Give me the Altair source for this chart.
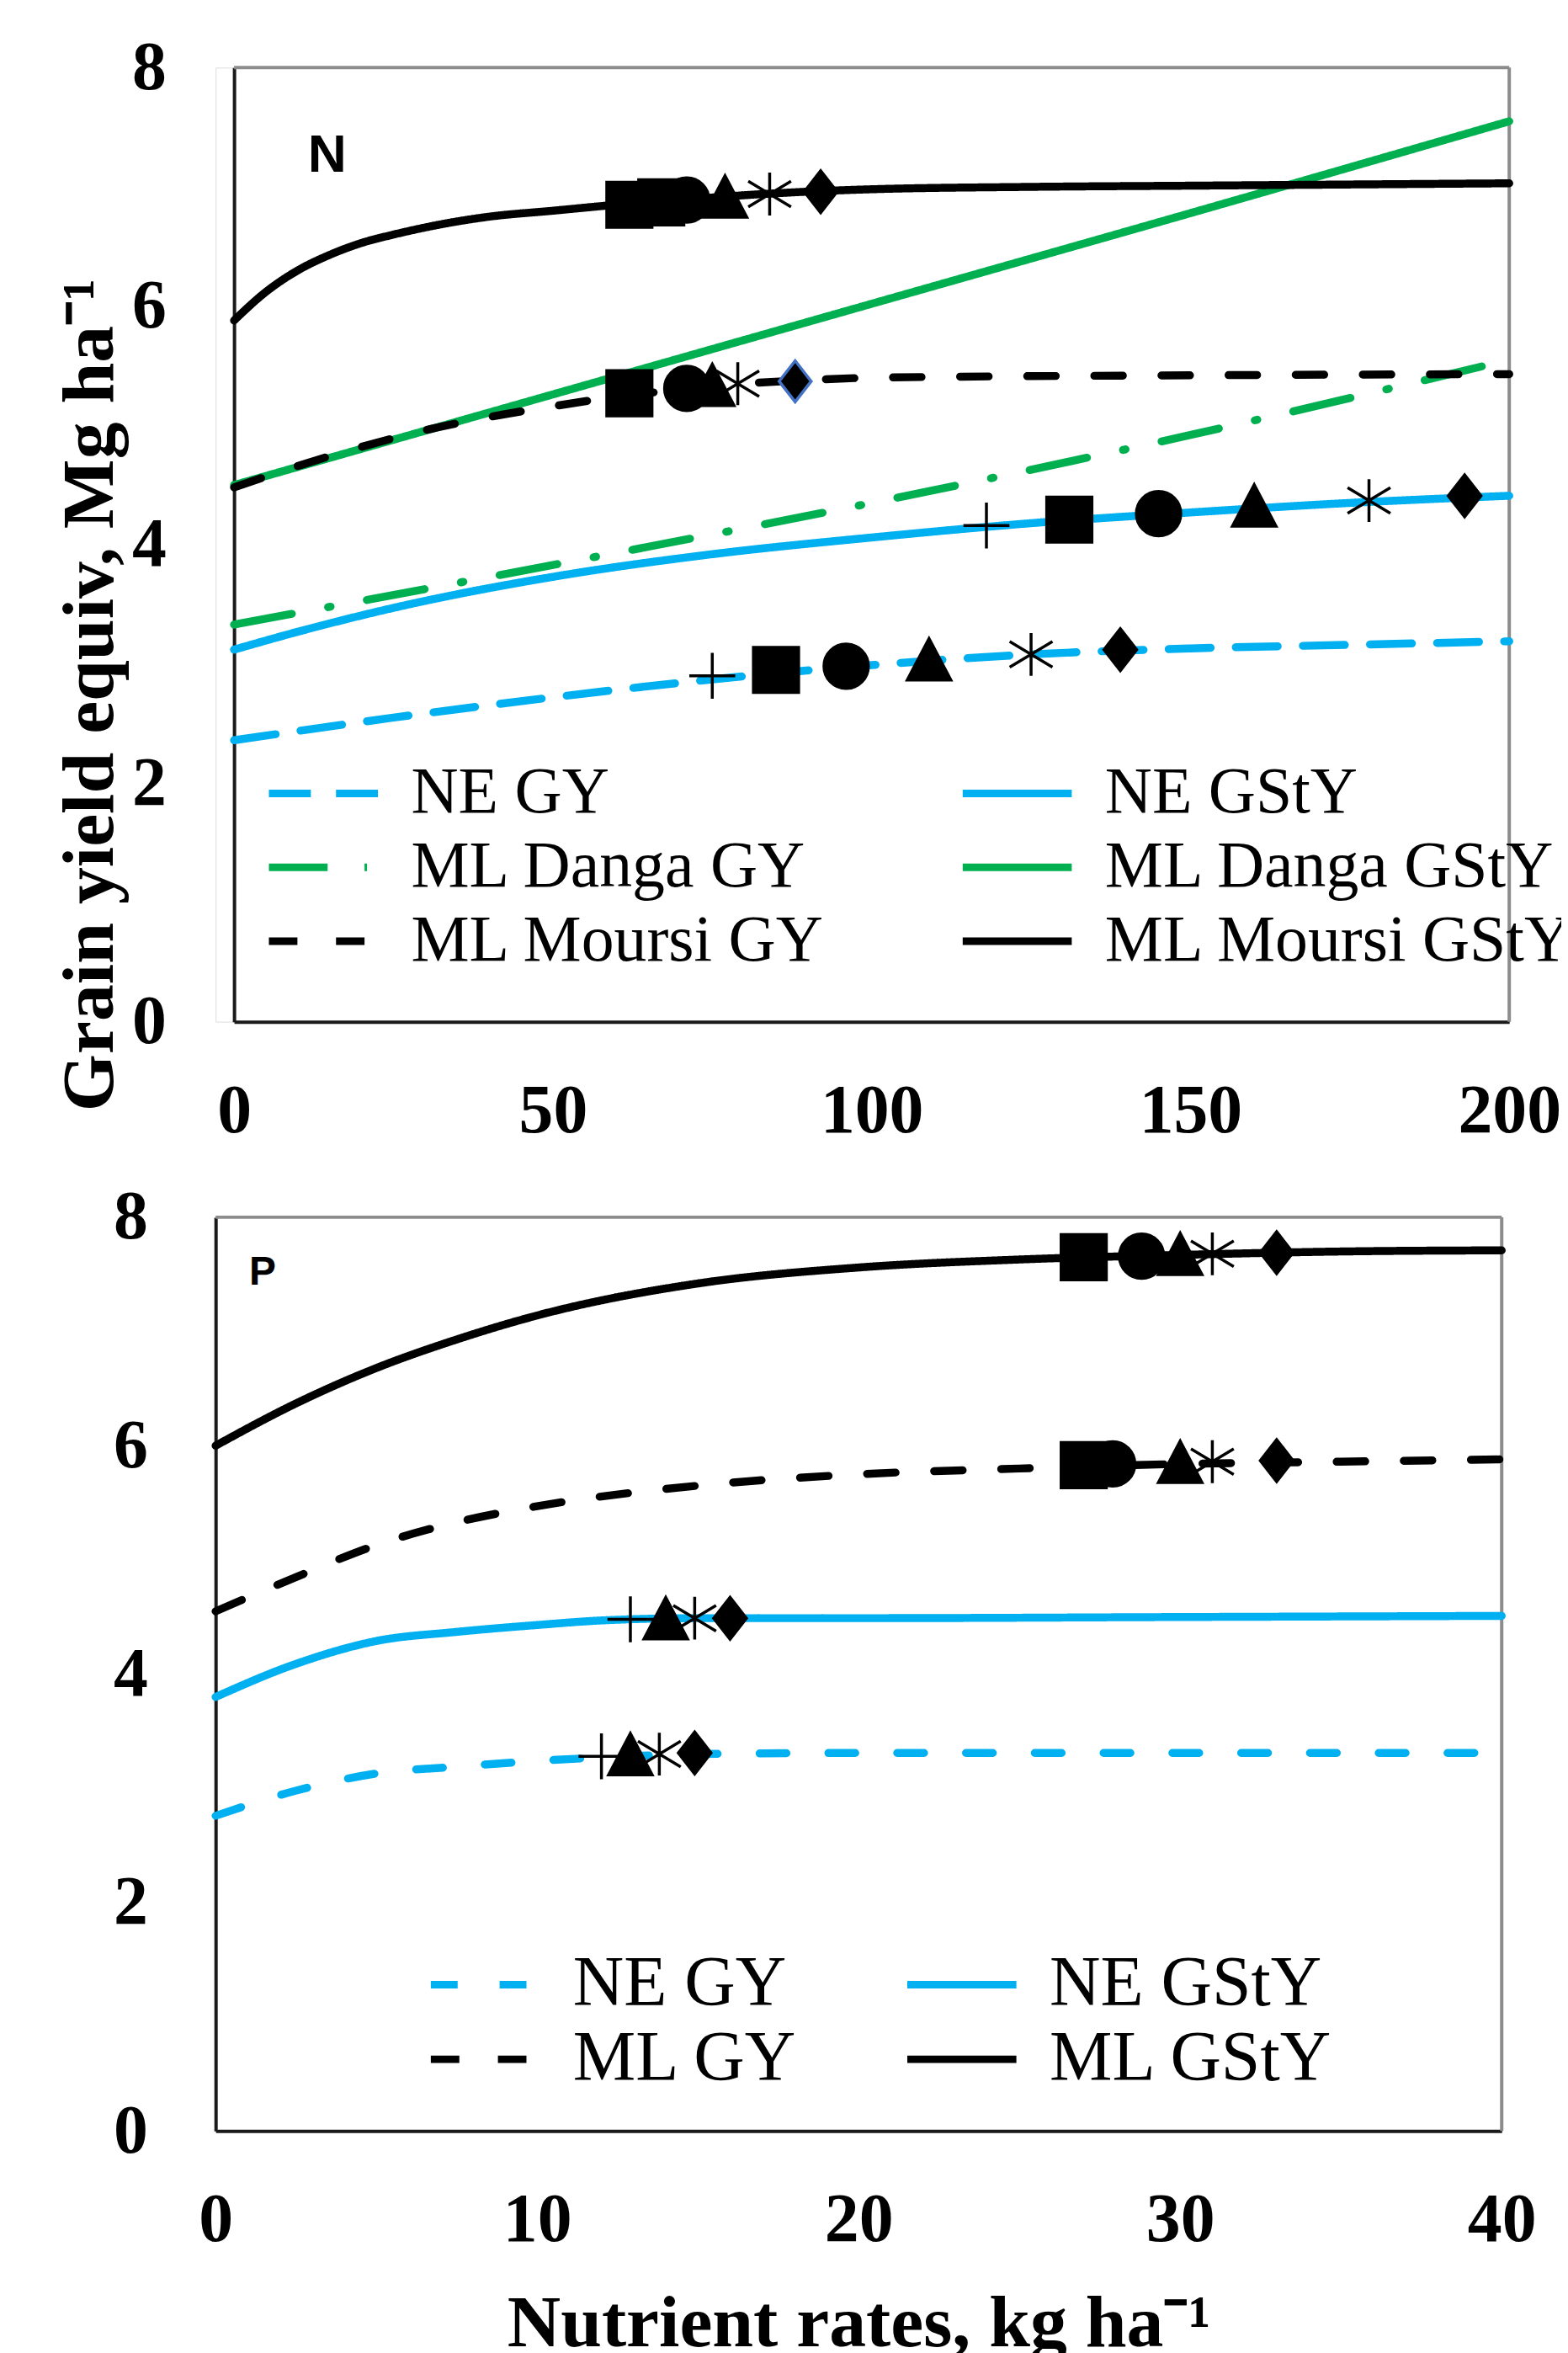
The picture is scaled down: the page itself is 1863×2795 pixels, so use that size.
import altair as alt
import pandas as pd

# ---------------- Panel N (nitrogen) ----------------
n_order = ["NE GY", "NE GStY", "ML Danga GY", "ML Danga GStY", "ML Moursi GY", "ML Moursi GStY"]

n_ne_gy_x = [0, 25, 50, 75, 100, 125, 150, 175, 200]
n_ne_gy_y = [2.36, 2.55, 2.72, 2.87, 2.99, 3.08, 3.13, 3.16, 3.19]
n_ne_gsty_x = [0, 10, 25, 50, 75, 100, 125, 150, 175, 200]
n_ne_gsty_y = [3.12, 3.27, 3.47, 3.73, 3.92, 4.06, 4.18, 4.27, 4.35, 4.41]
n_danga_gy_x = [0, 50, 100, 150, 200]
n_danga_gy_y = [3.33, 3.83, 4.35, 4.92, 5.55]
n_danga_gsty_x = [0, 50, 100, 150, 200]
n_danga_gsty_y = [4.50, 5.26, 6.02, 6.78, 7.55]
n_moursi_gy_x = [0, 10, 20, 30, 40, 50, 60, 70, 80, 90, 100, 150, 200]
n_moursi_gy_y = [4.48, 4.66, 4.82, 4.96, 5.07, 5.16, 5.24, 5.30, 5.35, 5.38, 5.40, 5.42, 5.43]
n_moursi_gsty_x = [0, 5, 10, 15, 20, 25, 30, 40, 50, 60, 70, 80, 90, 100, 125, 150, 175, 200]
n_moursi_gsty_y = [5.88, 6.12, 6.30, 6.43, 6.53, 6.60, 6.66, 6.75, 6.80, 6.85, 6.89, 6.93, 6.96, 6.98, 7.00, 7.01, 7.02, 7.03]

# markers on the N curves
n_mk_x = [62, 67, 71, 77, 84, 92,
          62, 71, 75, 79, 88,
          118, 131, 145, 160, 178, 193,
          75, 85, 96, 109, 125, 139]
n_mk_y = [6.85, 6.87, 6.89, 6.91, 6.94, 6.96,
          5.27, 5.31, 5.33, 5.35, 5.37,
          4.16, 4.21, 4.26, 4.32, 4.37, 4.41,
          2.90, 2.95, 2.98, 3.03, 3.08, 3.12]
n_mk_kind = ["square", "square", "circle", "triangle", "asterisk", "diamond",
             "square", "circle", "triangle", "asterisk", "diamond_blue",
             "plus", "square", "circle", "triangle", "asterisk", "diamond",
             "plus", "square", "circle", "triangle", "asterisk", "diamond"]

# ---------------- Panel P (phosphorus) ----------------
p_order = ["NE GY", "NE GStY", "ML GY", "ML GStY"]

p_ne_gy_x = [0, 2.5, 5, 7.5, 10, 12, 15, 20, 30, 40]
p_ne_gy_y = [2.76, 2.98, 3.13, 3.19, 3.24, 3.27, 3.30, 3.31, 3.31, 3.31]
p_ne_gsty_x = [0, 2.5, 5, 7.5, 10, 12, 15, 20, 30, 40]
p_ne_gsty_y = [3.80, 4.09, 4.29, 4.37, 4.43, 4.47, 4.49, 4.49, 4.50, 4.51]
p_ml_gy_x = [0, 2.5, 5, 7.5, 10, 15, 20, 25, 30, 35, 40]
p_ml_gy_y = [4.55, 4.85, 5.13, 5.33, 5.47, 5.65, 5.75, 5.80, 5.84, 5.86, 5.88]
p_ml_gsty_x = [0, 2.5, 5, 7.5, 10, 15, 20, 25, 30, 35, 40]
p_ml_gsty_y = [6.00, 6.37, 6.68, 6.93, 7.14, 7.42, 7.56, 7.63, 7.67, 7.70, 7.71]

p_mk_x = [27.0, 28.8, 30.0, 31.0, 33.0,
          27.0, 27.9, 30.0, 31.0, 33.0,
          12.9, 14.0, 14.9, 16.0,
          12.0, 12.9, 13.8, 14.9]
p_mk_y = [7.65, 7.66, 7.67, 7.68, 7.69,
          5.83, 5.84, 5.85, 5.86, 5.87,
          4.48, 4.48, 4.49, 4.49,
          3.28, 3.29, 3.30, 3.31]
p_mk_kind = ["square", "circle", "triangle", "asterisk", "diamond",
             "square", "circle", "triangle", "asterisk", "diamond",
             "plus", "triangle", "asterisk", "diamond",
             "plus", "triangle", "asterisk", "diamond"]

panel_labels = ["N", "P"]
n_label_pos = [14.6, 7.26]
p_label_pos = [1.46, 7.51]

y_title = "Grain yield equiv, Mg ha\u207b\u00b9"
x_title = "Nutrient rates, kg ha\u207b\u00b9"

# ---------------- styles ----------------
BLUE, GREEN, BLACK, FRAME = "#00B0F0", "#00B050", "#000000", "#8c8c8c"
SERIF = "Liberation Serif"

kinds = ["plus", "square", "circle", "triangle", "asterisk", "diamond", "diamond_blue"]
kind_paths = [
    "M-1,0L1,0M0,-1L0,1",
    "M-1,-1L1,-1L1,1L-1,1Z",
    "circle",
    "M0,-1L1,0.9L-1,0.9Z",
    "M0,-1L0,1M-1,-0.6L1,0.6M-1,0.6L1,-0.6",
    "M0,-1L0.78,0L0,1L-0.78,0Z",
    "M0,-1L0.78,0L0,1L-0.78,0Z",
]
kind_sizes = [3000, 2400, 2900, 3000, 2700, 2500, 2500]
kind_strokes = [BLACK, BLACK, BLACK, BLACK, BLACK, BLACK, "#4472C4"]


def long_df(names, xs_list, ys_list):
    rows = []
    for name, xs, ys in zip(names, xs_list, ys_list):
        for xv, yv in zip(xs, ys):
            rows.append({"series": name, "x": xv, "y": yv})
    return pd.DataFrame(rows)


n_lines = long_df(n_order,
                  [n_ne_gy_x, n_ne_gsty_x, n_danga_gy_x, n_danga_gsty_x, n_moursi_gy_x, n_moursi_gsty_x],
                  [n_ne_gy_y, n_ne_gsty_y, n_danga_gy_y, n_danga_gsty_y, n_moursi_gy_y, n_moursi_gsty_y])
p_lines = long_df(p_order,
                  [p_ne_gy_x, p_ne_gsty_x, p_ml_gy_x, p_ml_gsty_x],
                  [p_ne_gy_y, p_ne_gsty_y, p_ml_gy_y, p_ml_gsty_y])
n_marks = pd.DataFrame({"x": n_mk_x, "y": n_mk_y, "kind": n_mk_kind})
p_marks = pd.DataFrame({"x": p_mk_x, "y": p_mk_y, "kind": p_mk_kind})
n_lab = pd.DataFrame({"x": [n_label_pos[0]], "y": [n_label_pos[1]], "t": [panel_labels[0]]})
p_lab = pd.DataFrame({"x": [p_label_pos[0]], "y": [p_label_pos[1]], "t": [panel_labels[1]]})


def panel(lines_df, marks_df, lab_df, order, colors, dashes, xdomain, xvals,
          legend_kw, yaxis_kw, xaxis_kw, label_size, w, h, x0):
    xs = alt.Scale(domain=xdomain, nice=False, zero=False, range=[x0, w])
    ys = alt.Scale(domain=[0, 8], nice=False)
    common_axis = dict(grid=False, ticks=False, tickSize=0, domainColor="#1a1a1a", domainWidth=4,
                       labelFont=SERIF, labelFontWeight="bold", labelFontSize=82, labelColor="black",
                       titleFont=SERIF, titleFontWeight="bold", titleFontSize=88, titleColor="black")
    xaxis = alt.Axis(values=xvals, format="d", labelFlush=False, labelPadding=66, **common_axis, **xaxis_kw)
    yaxis = alt.Axis(values=[0, 2, 4, 6, 8], format="d", labelPadding=81, offset=-x0,
                     **common_axis, **yaxis_kw)
    leg = alt.Legend(orient="none", columns=2, direction="horizontal", symbolType="stroke",
                     symbolStrokeWidth=9, symbolSize=16900, labelFont=SERIF, labelColor="black",
                     labelOffset=35, labelLimit=2000, padding=0, rowPadding=0, **legend_kw)
    lines = alt.Chart(lines_df).mark_line(strokeWidth=9.5, strokeCap="round", interpolate="monotone").encode(
        x=alt.X("x:Q", scale=xs, axis=xaxis),
        y=alt.Y("y:Q", scale=ys, axis=yaxis),
        color=alt.Color("series:N", scale=alt.Scale(domain=order, range=colors), legend=leg, title=None),
        strokeDash=alt.StrokeDash("series:N", scale=alt.Scale(domain=order, range=dashes), legend=leg,
                                  title=None),
    )
    top_edge = alt.Chart(lab_df).mark_rule(color=FRAME, strokeWidth=4).encode(
        x=alt.X("x0:Q", scale=xs), x2="x1:Q", y=alt.Y("ytop:Q", scale=ys))
    right_edge = alt.Chart(lab_df).mark_rule(color=FRAME, strokeWidth=4).encode(
        x=alt.X("x1:Q", scale=xs), y=alt.Y("ybot:Q", scale=ys), y2="ytop:Q")
    pts = alt.Chart(marks_df).mark_point(filled=True, color="black", strokeWidth=3.5, opacity=1).encode(
        x=alt.X("x:Q", scale=xs),
        y=alt.Y("y:Q", scale=ys),
        shape=alt.Shape("kind:N", scale=alt.Scale(domain=kinds, range=kind_paths), legend=None),
        size=alt.Size("kind:N", scale=alt.Scale(domain=kinds, range=kind_sizes), legend=None),
        stroke=alt.Stroke("kind:N", scale=alt.Scale(domain=kinds, range=kind_strokes), legend=None),
    )
    txt = alt.Chart(lab_df).mark_text(font="Liberation Sans", fontWeight="bold", fontSize=label_size,
                                      color="black").encode(
        x=alt.X("x:Q", scale=xs), y=alt.Y("y:Q", scale=ys), text="t:N")
    return alt.layer(top_edge, right_edge, lines, pts, txt).properties(width=w, height=h)


n_lab = n_lab.assign(x0=0, x1=200, ybot=0, ytop=8)
p_lab = p_lab.assign(x0=0, x1=40, ybot=0, ytop=8)

top = panel(n_lines, n_marks, n_lab, n_order,
            [BLUE, BLUE, GREEN, GREEN, BLACK, BLACK],
            [[50, 30], [1, 0], [70, 44, 3, 44], [1, 0], [34, 46], [1, 0]],
            [0, 200], [0, 50, 100, 150, 200],
            dict(legendX=59, legendY=821, columnPadding=158, clipHeight=88, labelFontSize=78),
            dict(title=y_title, titleAngle=270, titleX=-171, titleY=747, titleAlign="center",
                 titleBaseline="middle"),
            dict(title=None),
            64, 1542, 1137, 22)

bottom = panel(p_lines, p_marks, p_lab, p_order,
               [BLUE, BLUE, BLACK, BLACK],
               [[32, 50], [1, 0], [34, 46], [1, 0]],
               [0, 40], [0, 10, 20, 30, 40],
               dict(legendX=252, legendY=870, columnPadding=125, clipHeight=89, labelFontSize=84),
               dict(title=None),
               dict(title=x_title, titleY=186, titleBaseline="top"),
               48, 1533, 1089, 0)

chart = alt.vconcat(top, bottom, spacing=43).resolve_scale(
    x="independent", y="independent", color="independent", strokeDash="independent",
    shape="independent", size="independent", stroke="independent"
).resolve_legend(color="independent", strokeDash="independent").properties(
    padding={"left": 55, "top": 26, "right": -17, "bottom": 0}
).configure_view(stroke="transparent").configure(background="white")

chart.save("out.html", embed_options={"renderer": "svg", "actions": False})
